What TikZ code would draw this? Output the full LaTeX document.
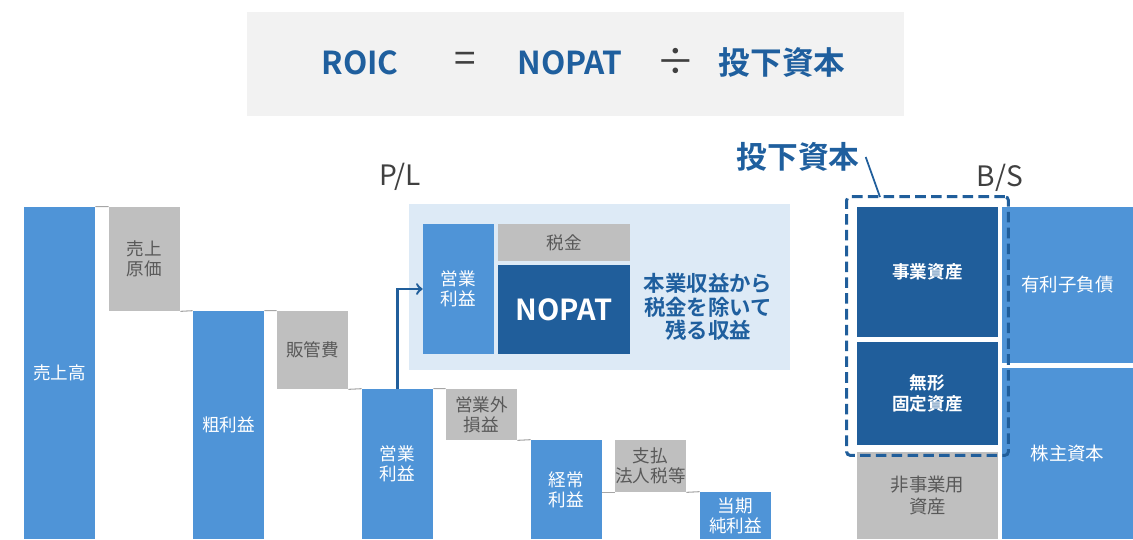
\documentclass[tikz,border=0pt]{standalone}
\usepackage{fontspec}
\setmainfont{Noto Sans CJK JP}[BoldFont={Noto Sans CJK JP Bold}]
\usetikzlibrary{positioning,arrows,fit}
\definecolor{barblue}{HTML}{4F94D7}
\definecolor{deepblue}{HTML}{205E9B}
\definecolor{paleblue}{HTML}{DDEAF6}
\definecolor{costgray}{HTML}{BFBFBF}
\definecolor{boxgray}{HTML}{F2F2F2}
\definecolor{linegray}{HTML}{A6A6A6}
\definecolor{labelgray}{HTML}{595959}
\definecolor{titleblue}{HTML}{1F5F9E}
\tikzset{
    bar/.style = {
        shape=rectangle,
        fill=barblue,
        text=white,
        minimum width=1.42cm,
        inner sep=0pt,
        align=center,
        font=\fontsize{10}{11.5}\selectfont
    },
    cost/.style = {
        bar,
        fill=costgray,
        text=labelgray
    },
    asset/.style = {
        shape=rectangle,
        fill=deepblue,
        text=white,
        minimum width=2.82cm,
        inner sep=0pt,
        align=center,
        font=\bfseries\fontsize{10}{12}\selectfont
    },
    liab/.style = {
        bar,
        minimum width=2.62cm,
        font=\fontsize{10.5}{12}\selectfont
    },
    headline/.style = {
        text=titleblue,
        font=\bfseries\fontsize{18}{20}\selectfont
    },
    opsign/.style = {
        text=black!75,
        font=\fontsize{22}{24}\selectfont
    },
    sheet/.style = {
        text=black!75,
        font=\fontsize{16}{18}\selectfont
    },
    link/.style = {
        draw=linegray,
        line width=0.6pt
    },
    >=to,
}
\begin{document}
\begin{tikzpicture}[x=0.02cm,y=-0.02cm]
                \useasboundingbox (0,0) rectangle (1133,539);

                \node[fill=boxgray, minimum width=13.14cm, minimum height=2.08cm] (formula) at (575.5,64) {};
                \node[headline] (roic) at (360,63) {ROIC};
                \node[opsign] (eq) at (465,62) {=};
                \node[headline] (nop) at (570,63) {NOPAT};
                \node[opsign] (divsign) at (676,62) {÷};
                \node[headline] (capital) at (782,63) {投下資本};

                \node[sheet] (pl) at (400,177) {P/L};
                \node[sheet] (bs) at (1000,178) {B/S};

                \node[bar, minimum height=6.64cm] (sales) at (59.5,373) {売上高};
                \node[cost, minimum height=2.08cm] (cogs) at (144.5,259) {売上\\原価};
                \node[bar, minimum height=4.56cm] (gross) at (228.5,425) {粗利益};
                \node[cost, minimum height=1.56cm] (sga) at (312.5,350) {販管費};
                \node[bar, minimum height=3cm] (op) at (397.5,464) {営業\\利益};
                \node[cost, minimum height=1.02cm] (nonop) at (481.5,414.5) {営業外\\損益};
                \node[bar, minimum height=1.98cm] (ord) at (566.5,489.5) {経常\\利益};
                \node[cost, minimum height=1.04cm] (tax) at (650.5,466) {支払\\法人税等};
                \node[bar, minimum height=0.94cm] (net) at (735.5,515.5) {当期\\純利益};

                \path[link] (sales.north east) -- (cogs.north west);
                \path[link] (cogs.south east) -- (gross.north west);
                \path[link] (gross.north east) -- (sga.north west);
                \path[link] (sga.south east) -- (op.north west);
                \path[link] (op.north east) -- (nonop.north west);
                \path[link] (nonop.south east) -- (ord.north west);
                \path[link] (ord.east |- tax.south) -- (tax.south west);
                \path[link] (tax.south east) -- (net.north west);

                \node[fill=paleblue, minimum width=7.62cm, minimum height=3.32cm] (panel) at (599.5,287) {};
                \node[bar, minimum height=2.6cm] (opin) at (458.5,289) {営業\\利益};
                \node[cost, minimum width=2.64cm, minimum height=0.74cm] (taxin) at (564,242.5) {税金};
                \node[asset, minimum width=2.64cm, minimum height=1.78cm, font=\bfseries\fontsize{16.5}{18}\selectfont] (nopat) at (564,309.5) {NOPAT};
                \node[align=center, text=titleblue, font=\bfseries\fontsize{12.2}{13.4}\selectfont] (note) at (708,307) {本業収益から\\税金を除いて\\残る収益};

                \path[draw, ->, deepblue, line width=1.4pt] (op.north) |- (opin.west);

                \node[asset, minimum height=2.6cm] (biz) at (927.5,272) {事業資産};
                \node[asset, minimum height=2.06cm] (intang) at (927.5,393.5) {無形\\固定資産};
                \node[cost, minimum width=2.82cm, minimum height=1.74cm, font=\fontsize{10.5}{12}\selectfont] (nonbiz) at (927.5,495.5) {非事業用\\資産};
                \node[liab, minimum height=3.12cm] (debt) at (1067.5,285) {有利子負債};
                \node[liab, minimum height=3.42cm] (equity) at (1067.5,453.5) {株主資本};

                \node[draw=deepblue, line width=1.7pt, dash pattern=on 6pt off 3pt, rounded corners=2pt, inner sep=0.2cm, fit=(biz)(intang)] (icbox) {};
                \node[headline, font=\bfseries\fontsize{17.5}{19}\selectfont] (iclabel) at (798,157) {投下資本};
                \coordinate (leadend) at (880,197);
                \path[draw, deepblue, line width=1pt] (iclabel.east) -- (leadend);
            \end{tikzpicture}
\end{document}
